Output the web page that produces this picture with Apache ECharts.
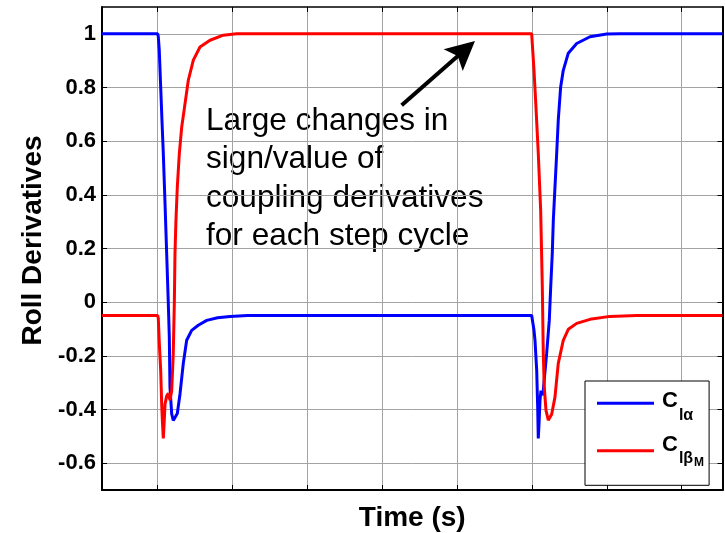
<!DOCTYPE html>
<html>
<head>
<meta charset="utf-8">
<script src="https://cdn.jsdelivr.net/npm/echarts@6/dist/echarts.min.js"></script>
<style>
  html, body { margin: 0; padding: 0; background: #fff; }
  #chart { width: 725px; height: 533px; }
</style>
</head>
<body>
<div id="chart"></div>
<script>
// Roll derivative histories over two step cycles
const seriesNames = ['Clα', 'ClβM'];

const timeRange = [0.256, 8.545];
const valueRange = [-0.7, 1.1];
const xGridTimes = [1, 2, 3, 4, 5, 6, 7, 8];
const yTicks = [-0.6, -0.4, -0.2, 0, 0.2, 0.4, 0.6, 0.8, 1];

const clAlphaTime = [0.256, 1.000, 1.008, 1.021, 1.040, 1.057, 1.075, 1.098, 1.120, 1.142, 1.155, 1.164,
  1.187, 1.208, 1.231, 1.262, 1.298, 1.342, 1.387, 1.454, 1.542, 1.655, 1.800, 1.966, 2.200,
  5.996, 6.027, 6.040, 6.063, 6.076, 6.084, 6.093, 6.107, 6.120, 6.138, 6.151, 6.196, 6.231,
  6.250, 6.271, 6.285, 6.307, 6.330, 6.351, 6.383, 6.418, 6.485, 6.597, 6.775, 6.998, 7.175, 8.545];
const clAlphaValue = [1.0, 1.0, 0.99, 0.939, 0.802, 0.678, 0.554, 0.367, 0.181, -0.006, -0.130, -0.317,
  -0.416, -0.441, -0.444, -0.415, -0.342, -0.228, -0.142, -0.105, -0.086, -0.068, -0.058, -0.053, -0.05,
  -0.05, -0.105, -0.142, -0.254, -0.391, -0.508, -0.459, -0.366, -0.33, -0.347, -0.329, -0.191, -0.068,
  0.056, 0.182, 0.305, 0.429, 0.555, 0.678, 0.802, 0.864, 0.928, 0.964, 0.989, 0.999, 1.0, 1.0];

const clBetaTime = [0.256, 1.000, 1.008, 1.021, 1.040, 1.053, 1.064, 1.075, 1.086, 1.098, 1.120, 1.142,
  1.164, 1.187, 1.208, 1.222, 1.231, 1.244, 1.262, 1.289, 1.321, 1.365, 1.409, 1.476, 1.565, 1.699,
  1.876, 2.055, 5.996, 6.027, 6.053, 6.084, 6.116, 6.138, 6.151, 6.164, 6.187, 6.218, 6.263, 6.307,
  6.351, 6.418, 6.485, 6.597, 6.775, 7.042, 7.400, 8.545];
const clBetaValue = [-0.05, -0.05, -0.06, -0.15, -0.254, -0.377, -0.45, -0.508, -0.45, -0.38, -0.35, -0.34,
  -0.365, -0.33, -0.192, -0.006, 0.181, 0.305, 0.429, 0.554, 0.653, 0.740, 0.827, 0.902, 0.951, 0.976,
  0.995, 1.0, 1.0, 0.864, 0.728, 0.555, 0.342, 0.056, -0.191, -0.317, -0.403, -0.44, -0.418, -0.354,
  -0.228, -0.142, -0.101, -0.079, -0.064, -0.053, -0.05, -0.05];

// Callout text and the arrow pointing at the upper plateau (time, value)
const noteLines = ['Large changes in', 'sign/value of', 'coupling derivatives', 'for each step cycle'];
const arrowFrom = [4.259, 0.734];
const arrowTo = [5.093, 0.938];

const FONT = '"Liberation Sans", Arial, Helvetica, sans-serif';
const ARROW_HEAD = 'path://M14,0 L28,29 L14,23 L0,29 Z';
const pairs = (ts, vs) => ts.map((t, i) => [t, vs[i]]);
const tickText = v => String(+(+v).toFixed(1));

const boxAxis = (extra) => Object.assign({
  type: 'value',
  axisLine: { show: true, onZero: false, lineStyle: { color: '#000', width: 2 } },
  axisLabel: { show: false },
  splitLine: { show: false }
}, extra);

const chart = echarts.init(document.getElementById('chart'), null, { renderer: 'canvas' });

chart.setOption({
  animation: false,
  backgroundColor: '#fff',
  grid: { left: 102, right: 2.5, top: 7, bottom: 43, containLabel: false, outerBoundsMode: 'none' },
  xAxis: [
    boxAxis({
      position: 'bottom',
      min: timeRange[0], max: timeRange[1],
      name: 'Time (s)', nameLocation: 'middle', nameGap: 14,
      nameTextStyle: { fontFamily: FONT, fontSize: 28, fontWeight: 'bold', color: '#000', verticalAlign: 'top' },
      axisTick: { show: true, inside: true, length: 5, customValues: xGridTimes, lineStyle: { color: '#000', width: 1 } },
      splitLine: { show: true, lineStyle: { color: '#a3a3a3', width: 1 } }
    }),
    boxAxis({
      position: 'top',
      min: timeRange[0], max: timeRange[1],
      axisLine: { show: true, onZero: false, lineStyle: { color: '#000', width: 1.5 } },
      axisTick: { show: true, inside: true, length: 5, customValues: xGridTimes, lineStyle: { color: '#000', width: 1 } }
    })
  ],
  yAxis: [
    boxAxis({
      position: 'left',
      min: valueRange[0], max: valueRange[1],
      name: 'Roll Derivatives', nameLocation: 'middle', nameGap: 54, nameRotate: 90,
      nameTextStyle: { fontFamily: FONT, fontSize: 28, fontWeight: 'bold', color: '#000', padding: [0, 0, 0, 16] },
      axisTick: { show: true, inside: true, length: 5, customValues: yTicks, lineStyle: { color: '#000', width: 1 } },
      axisLabel: { show: true, customValues: yTicks, formatter: tickText, margin: 6,
        fontFamily: FONT, fontSize: 22, fontWeight: 'bold', color: '#000' },
      splitLine: { show: true, lineStyle: { color: '#a3a3a3', width: 1 } }
    }),
    boxAxis({
      position: 'right',
      min: valueRange[0], max: valueRange[1],
      axisTick: { show: true, inside: true, length: 5, customValues: yTicks, lineStyle: { color: '#000', width: 1 } }
    })
  ],
  legend: {
    orient: 'vertical',
    left: 585, top: 381,
    padding: [9, 5, 17, 12],
    itemWidth: 57, itemHeight: 3, itemGap: 10.5,
    icon: 'rect',
    selectedMode: false,
    backgroundColor: '#fff',
    borderColor: '#000', borderWidth: 1, borderRadius: 0,
    data: seriesNames,
    formatter: name => name === seriesNames[0] ? '{c1|C}{s1|lα}' : '{c2|C}{s2|lβ}{m|M}',
    textStyle: {
      color: '#000', fontFamily: FONT, fontWeight: 'bold',
      rich: {
        c1: { fontSize: 22, fontWeight: 'bold', fontFamily: FONT, verticalAlign: 'middle', padding: [0, 0, 4.6, 3] },
        s1: { fontSize: 16, fontWeight: 'bold', fontFamily: FONT, verticalAlign: 'middle', padding: [23.6, 0, 0, 1] },
        c2: { fontSize: 22, fontWeight: 'bold', fontFamily: FONT, verticalAlign: 'middle', padding: [0, 0, 12.4, 3] },
        s2: { fontSize: 16, fontWeight: 'bold', fontFamily: FONT, verticalAlign: 'middle', padding: [15.8, 0, 0, 1] },
        m: { fontSize: 12, fontWeight: 'bold', fontFamily: FONT, verticalAlign: 'middle', padding: [23, 0, 0, 1] }
      }
    }
  },
  graphic: [{
    type: 'text',
    left: 206, top: 102,
    silent: true,
    style: {
      text: noteLines.join('\n'),
      fontFamily: FONT, fontSize: 31.6, lineHeight: 38.5,
      fill: '#000'
    }
  }],
  series: [
    {
      name: seriesNames[0],
      type: 'line',
      data: pairs(clAlphaTime, clAlphaValue),
      showSymbol: false,
      symbol: 'none',
      color: '#0000ff',
      lineStyle: { color: '#0000ff', width: 3 },
      emphasis: { disabled: true },
      silent: true
    },
    {
      name: seriesNames[1],
      type: 'line',
      data: pairs(clBetaTime, clBetaValue),
      showSymbol: false,
      symbol: 'none',
      color: '#ff0000',
      lineStyle: { color: '#ff0000', width: 3 },
      emphasis: { disabled: true },
      silent: true,
      markLine: {
        silent: true,
        symbol: ['none', ARROW_HEAD],
        symbolSize: 29,
        label: { show: false },
        emphasis: { disabled: true },
        itemStyle: { color: '#000' },
        lineStyle: { color: '#000', width: 4, type: 'solid' },
        data: [[{ coord: arrowFrom }, { coord: arrowTo }]]
      }
    }
  ]
});
</script>
</body>
</html>
